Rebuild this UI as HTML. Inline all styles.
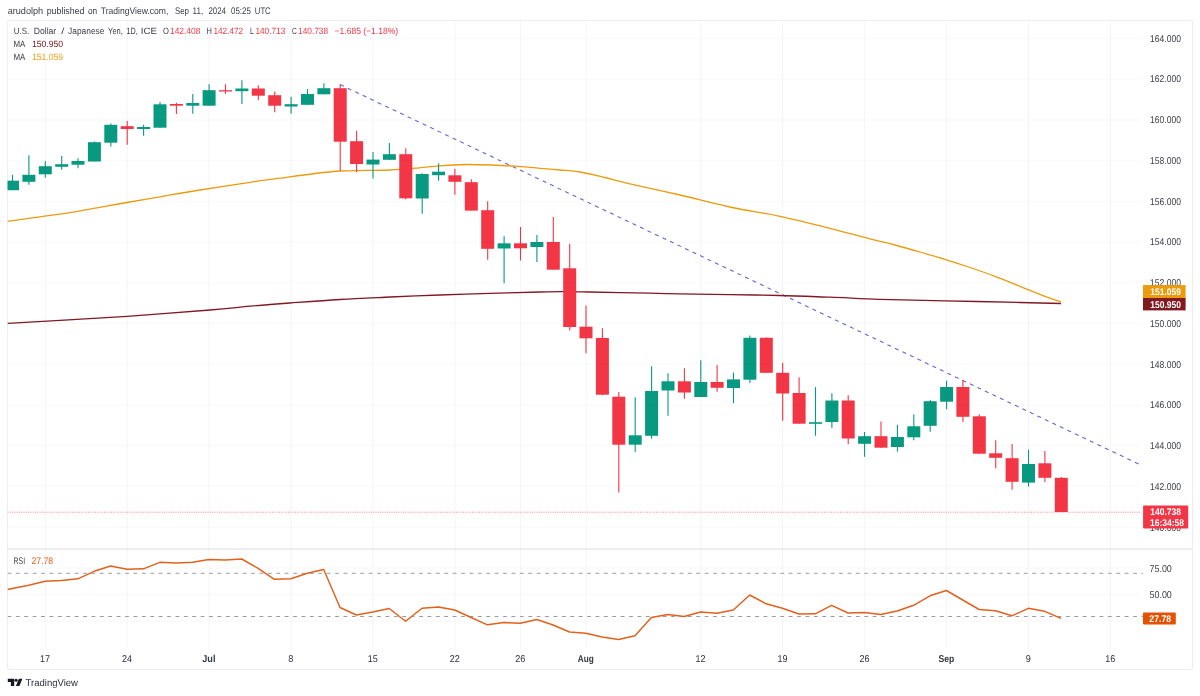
<!DOCTYPE html>
<html lang="en"><head><meta charset="utf-8"><title>USDJPY chart</title>
<style>html,body{margin:0;padding:0;background:#fff}body{width:1200px;height:696px;overflow:hidden}svg{display:block}</style></head>
<body>
<svg width="1200" height="696" viewBox="0 0 1200 696" text-rendering="geometricPrecision" font-family="'Liberation Sans', sans-serif">
<rect width="1200" height="696" fill="#ffffff"/>
<defs><clipPath id="cp"><rect x="7.5" y="20.5" width="1135.5" height="649.0"/></clipPath></defs>
<rect x="7.5" y="20.5" width="1185.1" height="649.0" rx="2" fill="#ffffff" stroke="#eeeef2" stroke-width="1.1"/>
<line x1="7.5" y1="549.1" x2="1192.6" y2="549.1" stroke="#e9e9ee" stroke-width="1.5"/>
<g clip-path="url(#cp)">
<line x1="340.2" y1="84.6" x2="1140.5" y2="464.9" stroke="#6763d0" stroke-width="1.1" stroke-dasharray="4,4.3"/>
<path d="M7.5 323.3 C16.2 322.8 40.1 321.5 60.0 320.3 C79.9 319.1 102.0 318.0 127.0 316.3 C152.0 314.6 189.5 311.7 210.0 310.0 C230.5 308.3 236.7 307.4 250.0 306.2 C263.3 305.0 275.0 304.1 290.0 303.0 C305.0 301.9 323.3 300.5 340.0 299.5 C356.7 298.5 373.3 297.8 390.0 297.0 C406.7 296.2 423.3 295.6 440.0 295.0 C456.7 294.4 473.3 293.8 490.0 293.3 C506.7 292.8 528.3 292.3 540.0 292.0 C551.7 291.7 551.7 291.6 560.0 291.6 C568.3 291.6 575.0 291.7 590.0 292.0 C605.0 292.3 635.0 292.9 650.0 293.2 C665.0 293.5 666.7 293.6 680.0 293.8 C693.3 294.0 713.3 294.3 730.0 294.6 C746.7 294.9 763.3 295.1 780.0 295.5 C796.7 295.9 813.3 296.6 830.0 297.2 C846.7 297.8 860.8 298.7 880.0 299.3 C899.2 299.9 921.7 300.3 945.0 300.8 C968.3 301.3 1000.7 302.1 1020.0 302.5 C1039.3 302.9 1054.2 303.3 1061.0 303.5" fill="none" stroke="#801922" stroke-width="1.3" stroke-linejoin="round"/>
<path d="M7.5 221.4 C12.9 220.6 28.8 218.4 40.0 216.8 C51.2 215.2 60.5 214.2 75.0 211.8 C89.5 209.4 112.8 205.0 127.0 202.5 C141.2 200.0 147.8 198.9 160.0 196.8 C172.2 194.7 185.0 192.4 200.0 190.0 C215.0 187.6 235.0 184.5 250.0 182.3 C265.0 180.1 279.2 178.3 290.0 176.8 C300.8 175.3 306.7 174.5 315.0 173.5 C323.3 172.5 331.7 171.5 340.0 171.0 C348.3 170.5 356.7 170.6 365.0 170.4 C373.3 170.2 381.7 170.4 390.0 170.0 C398.3 169.6 406.7 168.9 415.0 168.2 C423.3 167.5 431.7 166.4 440.0 165.8 C448.3 165.2 456.7 164.6 465.0 164.5 C473.3 164.4 481.7 164.7 490.0 165.0 C498.3 165.3 506.7 165.6 515.0 166.2 C523.3 166.8 532.5 167.7 540.0 168.3 C547.5 168.9 553.3 169.4 560.0 170.0 C566.7 170.6 572.5 170.8 580.0 172.0 C587.5 173.2 596.7 175.5 605.0 177.5 C613.3 179.5 617.5 180.9 630.0 183.8 C642.5 186.7 663.3 191.1 680.0 195.0 C696.7 198.9 713.3 203.4 730.0 207.0 C746.7 210.6 763.3 212.8 780.0 216.3 C796.7 219.9 815.0 224.6 830.0 228.3 C845.0 232.1 859.2 236.0 870.0 238.8 C880.8 241.6 886.7 242.8 895.0 245.0 C903.3 247.2 911.7 249.6 920.0 252.0 C928.3 254.4 936.7 256.7 945.0 259.3 C953.3 261.9 961.7 264.7 970.0 267.5 C978.3 270.3 986.7 273.2 995.0 276.3 C1003.3 279.4 1011.7 283.0 1020.0 286.3 C1028.3 289.6 1038.2 293.7 1045.0 296.3 C1051.8 298.9 1058.3 300.9 1061.0 301.8" fill="none" stroke="#ec9b0e" stroke-width="1.3" stroke-linejoin="round"/>
<line x1="12.5" y1="174.8" x2="12.5" y2="190.2" stroke="#089981" stroke-width="1.1"/>
<rect x="6.0" y="180.7" width="13.0" height="9.5" fill="#089981"/>
<line x1="28.9" y1="155.3" x2="28.9" y2="184.8" stroke="#089981" stroke-width="1.1"/>
<rect x="22.4" y="174.8" width="13.0" height="7.0" fill="#089981"/>
<line x1="45.3" y1="161.0" x2="45.3" y2="177.7" stroke="#089981" stroke-width="1.1"/>
<rect x="38.8" y="166.2" width="13.0" height="8.1" fill="#089981"/>
<line x1="61.7" y1="156.0" x2="61.7" y2="169.8" stroke="#089981" stroke-width="1.1"/>
<rect x="55.2" y="164.2" width="13.0" height="2.6" fill="#089981"/>
<line x1="78.0" y1="158.2" x2="78.0" y2="168.2" stroke="#089981" stroke-width="1.1"/>
<rect x="71.5" y="161.0" width="13.0" height="3.7" fill="#089981"/>
<line x1="94.4" y1="141.5" x2="94.4" y2="161.5" stroke="#089981" stroke-width="1.1"/>
<rect x="87.9" y="142.2" width="13.0" height="19.3" fill="#089981"/>
<line x1="110.8" y1="123.5" x2="110.8" y2="146.5" stroke="#089981" stroke-width="1.1"/>
<rect x="104.3" y="124.8" width="13.0" height="17.9" fill="#089981"/>
<line x1="127.2" y1="121.0" x2="127.2" y2="144.8" stroke="#f23645" stroke-width="1.1"/>
<rect x="120.7" y="126.2" width="13.0" height="2.8" fill="#f23645"/>
<line x1="143.6" y1="124.8" x2="143.6" y2="135.7" stroke="#089981" stroke-width="1.1"/>
<rect x="137.1" y="127.0" width="13.0" height="2.0" fill="#089981"/>
<line x1="160.0" y1="102.0" x2="160.0" y2="127.7" stroke="#089981" stroke-width="1.1"/>
<rect x="153.5" y="104.3" width="13.0" height="23.4" fill="#089981"/>
<line x1="176.4" y1="102.7" x2="176.4" y2="114.0" stroke="#f23645" stroke-width="1.1"/>
<rect x="169.9" y="104.0" width="13.0" height="1.7" fill="#f23645"/>
<line x1="192.8" y1="94.0" x2="192.8" y2="113.7" stroke="#089981" stroke-width="1.1"/>
<rect x="186.3" y="103.0" width="13.0" height="2.7" fill="#089981"/>
<line x1="209.1" y1="84.3" x2="209.1" y2="105.7" stroke="#089981" stroke-width="1.1"/>
<rect x="202.6" y="90.2" width="13.0" height="15.5" fill="#089981"/>
<line x1="225.5" y1="84.3" x2="225.5" y2="93.7" stroke="#f23645" stroke-width="1.1"/>
<rect x="219.0" y="90.2" width="13.0" height="1.3" fill="#f23645"/>
<line x1="241.9" y1="80.2" x2="241.9" y2="104.0" stroke="#089981" stroke-width="1.1"/>
<rect x="235.4" y="88.5" width="13.0" height="2.7" fill="#089981"/>
<line x1="258.3" y1="85.3" x2="258.3" y2="100.3" stroke="#f23645" stroke-width="1.1"/>
<rect x="251.8" y="88.5" width="13.0" height="7.2" fill="#f23645"/>
<line x1="274.7" y1="91.5" x2="274.7" y2="112.3" stroke="#f23645" stroke-width="1.1"/>
<rect x="268.2" y="95.2" width="13.0" height="10.5" fill="#f23645"/>
<line x1="291.1" y1="96.8" x2="291.1" y2="113.7" stroke="#089981" stroke-width="1.1"/>
<rect x="284.6" y="104.2" width="13.0" height="2.3" fill="#089981"/>
<line x1="307.5" y1="89.0" x2="307.5" y2="104.8" stroke="#089981" stroke-width="1.1"/>
<rect x="301.0" y="94.0" width="13.0" height="10.8" fill="#089981"/>
<line x1="323.9" y1="83.2" x2="323.9" y2="94.3" stroke="#089981" stroke-width="1.1"/>
<rect x="317.4" y="88.2" width="13.0" height="6.1" fill="#089981"/>
<line x1="340.2" y1="84.3" x2="340.2" y2="170.7" stroke="#f23645" stroke-width="1.1"/>
<rect x="333.7" y="88.2" width="13.0" height="53.5" fill="#f23645"/>
<line x1="356.6" y1="130.7" x2="356.6" y2="172.3" stroke="#f23645" stroke-width="1.1"/>
<rect x="350.1" y="141.2" width="13.0" height="22.8" fill="#f23645"/>
<line x1="373.0" y1="152.1" x2="373.0" y2="178.5" stroke="#089981" stroke-width="1.1"/>
<rect x="366.5" y="159.6" width="13.0" height="4.9" fill="#089981"/>
<line x1="389.4" y1="143.0" x2="389.4" y2="159.8" stroke="#089981" stroke-width="1.1"/>
<rect x="382.9" y="154.2" width="13.0" height="5.6" fill="#089981"/>
<line x1="405.8" y1="148.3" x2="405.8" y2="199.5" stroke="#f23645" stroke-width="1.1"/>
<rect x="399.3" y="154.2" width="13.0" height="44.1" fill="#f23645"/>
<line x1="422.2" y1="173.3" x2="422.2" y2="213.7" stroke="#089981" stroke-width="1.1"/>
<rect x="415.7" y="174.0" width="13.0" height="24.5" fill="#089981"/>
<line x1="438.6" y1="163.3" x2="438.6" y2="180.8" stroke="#089981" stroke-width="1.1"/>
<rect x="432.1" y="171.7" width="13.0" height="3.5" fill="#089981"/>
<line x1="454.9" y1="168.7" x2="454.9" y2="194.7" stroke="#f23645" stroke-width="1.1"/>
<rect x="448.4" y="175.3" width="13.0" height="6.5" fill="#f23645"/>
<line x1="471.3" y1="179.2" x2="471.3" y2="210.6" stroke="#f23645" stroke-width="1.1"/>
<rect x="464.8" y="182.2" width="13.0" height="28.4" fill="#f23645"/>
<line x1="487.7" y1="201.2" x2="487.7" y2="259.7" stroke="#f23645" stroke-width="1.1"/>
<rect x="481.2" y="210.2" width="13.0" height="38.6" fill="#f23645"/>
<line x1="504.1" y1="236.2" x2="504.1" y2="283.3" stroke="#089981" stroke-width="1.1"/>
<rect x="497.6" y="243.3" width="13.0" height="5.2" fill="#089981"/>
<line x1="520.5" y1="227.0" x2="520.5" y2="260.5" stroke="#f23645" stroke-width="1.1"/>
<rect x="514.0" y="243.3" width="13.0" height="5.0" fill="#f23645"/>
<line x1="536.9" y1="235.0" x2="536.9" y2="262.0" stroke="#089981" stroke-width="1.1"/>
<rect x="530.4" y="242.0" width="13.0" height="5.0" fill="#089981"/>
<line x1="553.3" y1="217.0" x2="553.3" y2="269.7" stroke="#f23645" stroke-width="1.1"/>
<rect x="546.8" y="242.0" width="13.0" height="27.7" fill="#f23645"/>
<line x1="569.7" y1="243.8" x2="569.7" y2="330.5" stroke="#f23645" stroke-width="1.1"/>
<rect x="563.2" y="268.3" width="13.0" height="58.7" fill="#f23645"/>
<line x1="586.0" y1="305.5" x2="586.0" y2="353.3" stroke="#f23645" stroke-width="1.1"/>
<rect x="579.5" y="326.7" width="13.0" height="11.6" fill="#f23645"/>
<line x1="602.4" y1="328.3" x2="602.4" y2="395.3" stroke="#f23645" stroke-width="1.1"/>
<rect x="595.9" y="338.0" width="13.0" height="56.7" fill="#f23645"/>
<line x1="618.8" y1="392.0" x2="618.8" y2="492.5" stroke="#f23645" stroke-width="1.1"/>
<rect x="612.3" y="396.7" width="13.0" height="48.0" fill="#f23645"/>
<line x1="635.2" y1="397.2" x2="635.2" y2="452.0" stroke="#089981" stroke-width="1.1"/>
<rect x="628.7" y="435.3" width="13.0" height="9.4" fill="#089981"/>
<line x1="651.6" y1="366.2" x2="651.6" y2="438.7" stroke="#089981" stroke-width="1.1"/>
<rect x="645.1" y="391.0" width="13.0" height="44.8" fill="#089981"/>
<line x1="668.0" y1="373.3" x2="668.0" y2="415.8" stroke="#089981" stroke-width="1.1"/>
<rect x="661.5" y="381.3" width="13.0" height="9.2" fill="#089981"/>
<line x1="684.4" y1="368.3" x2="684.4" y2="398.7" stroke="#f23645" stroke-width="1.1"/>
<rect x="677.9" y="381.3" width="13.0" height="11.2" fill="#f23645"/>
<line x1="700.8" y1="360.3" x2="700.8" y2="397.0" stroke="#089981" stroke-width="1.1"/>
<rect x="694.3" y="382.0" width="13.0" height="15.0" fill="#089981"/>
<line x1="717.1" y1="365.0" x2="717.1" y2="391.7" stroke="#f23645" stroke-width="1.1"/>
<rect x="710.6" y="382.0" width="13.0" height="5.8" fill="#f23645"/>
<line x1="733.5" y1="372.5" x2="733.5" y2="403.3" stroke="#089981" stroke-width="1.1"/>
<rect x="727.0" y="379.4" width="13.0" height="8.6" fill="#089981"/>
<line x1="749.9" y1="335.5" x2="749.9" y2="383.0" stroke="#089981" stroke-width="1.1"/>
<rect x="743.4" y="337.8" width="13.0" height="41.9" fill="#089981"/>
<line x1="766.3" y1="337.3" x2="766.3" y2="372.8" stroke="#f23645" stroke-width="1.1"/>
<rect x="759.8" y="337.8" width="13.0" height="35.0" fill="#f23645"/>
<line x1="782.7" y1="362.8" x2="782.7" y2="420.8" stroke="#f23645" stroke-width="1.1"/>
<rect x="776.2" y="372.8" width="13.0" height="20.7" fill="#f23645"/>
<line x1="799.1" y1="377.2" x2="799.1" y2="423.7" stroke="#f23645" stroke-width="1.1"/>
<rect x="792.6" y="393.0" width="13.0" height="30.7" fill="#f23645"/>
<line x1="815.5" y1="387.2" x2="815.5" y2="435.8" stroke="#089981" stroke-width="1.1"/>
<rect x="809.0" y="422.2" width="13.0" height="1.6" fill="#089981"/>
<line x1="831.9" y1="393.3" x2="831.9" y2="428.0" stroke="#089981" stroke-width="1.1"/>
<rect x="825.4" y="400.5" width="13.0" height="21.5" fill="#089981"/>
<line x1="848.2" y1="395.3" x2="848.2" y2="444.2" stroke="#f23645" stroke-width="1.1"/>
<rect x="841.7" y="400.5" width="13.0" height="38.0" fill="#f23645"/>
<line x1="864.6" y1="432.0" x2="864.6" y2="456.7" stroke="#089981" stroke-width="1.1"/>
<rect x="858.1" y="436.2" width="13.0" height="7.6" fill="#089981"/>
<line x1="881.0" y1="421.5" x2="881.0" y2="447.7" stroke="#f23645" stroke-width="1.1"/>
<rect x="874.5" y="436.2" width="13.0" height="11.5" fill="#f23645"/>
<line x1="897.4" y1="424.7" x2="897.4" y2="451.7" stroke="#089981" stroke-width="1.1"/>
<rect x="890.9" y="437.0" width="13.0" height="10.0" fill="#089981"/>
<line x1="913.8" y1="414.2" x2="913.8" y2="440.3" stroke="#089981" stroke-width="1.1"/>
<rect x="907.3" y="426.3" width="13.0" height="11.0" fill="#089981"/>
<line x1="930.2" y1="400.0" x2="930.2" y2="431.7" stroke="#089981" stroke-width="1.1"/>
<rect x="923.7" y="401.2" width="13.0" height="24.6" fill="#089981"/>
<line x1="946.6" y1="380.8" x2="946.6" y2="409.2" stroke="#089981" stroke-width="1.1"/>
<rect x="940.1" y="387.0" width="13.0" height="14.7" fill="#089981"/>
<line x1="962.9" y1="380.0" x2="962.9" y2="422.0" stroke="#f23645" stroke-width="1.1"/>
<rect x="956.4" y="387.0" width="13.0" height="29.8" fill="#f23645"/>
<line x1="979.3" y1="414.2" x2="979.3" y2="453.7" stroke="#f23645" stroke-width="1.1"/>
<rect x="972.8" y="416.3" width="13.0" height="37.4" fill="#f23645"/>
<line x1="995.7" y1="440.3" x2="995.7" y2="468.2" stroke="#f23645" stroke-width="1.1"/>
<rect x="989.2" y="453.3" width="13.0" height="4.5" fill="#f23645"/>
<line x1="1012.1" y1="444.0" x2="1012.1" y2="489.8" stroke="#f23645" stroke-width="1.1"/>
<rect x="1005.6" y="458.2" width="13.0" height="23.6" fill="#f23645"/>
<line x1="1028.5" y1="449.6" x2="1028.5" y2="486.5" stroke="#089981" stroke-width="1.1"/>
<rect x="1022.0" y="464.0" width="13.0" height="18.6" fill="#089981"/>
<line x1="1044.9" y1="451.0" x2="1044.9" y2="482.0" stroke="#f23645" stroke-width="1.1"/>
<rect x="1038.4" y="463.3" width="13.0" height="14.5" fill="#f23645"/>
<line x1="1061.3" y1="477.0" x2="1061.3" y2="512.0" stroke="#f23645" stroke-width="1.1"/>
<rect x="1054.8" y="477.8" width="13.0" height="34.2" fill="#f23645"/>
<line x1="45.3" y1="20.5" x2="45.3" y2="649" stroke="rgba(50,40,80,0.05)" stroke-width="1"/>
<line x1="127.2" y1="20.5" x2="127.2" y2="649" stroke="rgba(50,40,80,0.05)" stroke-width="1"/>
<line x1="209.1" y1="20.5" x2="209.1" y2="649" stroke="rgba(50,40,80,0.05)" stroke-width="1"/>
<line x1="291.1" y1="20.5" x2="291.1" y2="649" stroke="rgba(50,40,80,0.05)" stroke-width="1"/>
<line x1="373.0" y1="20.5" x2="373.0" y2="649" stroke="rgba(50,40,80,0.05)" stroke-width="1"/>
<line x1="454.9" y1="20.5" x2="454.9" y2="649" stroke="rgba(50,40,80,0.05)" stroke-width="1"/>
<line x1="520.5" y1="20.5" x2="520.5" y2="649" stroke="rgba(50,40,80,0.05)" stroke-width="1"/>
<line x1="586.0" y1="20.5" x2="586.0" y2="649" stroke="rgba(50,40,80,0.05)" stroke-width="1"/>
<line x1="700.8" y1="20.5" x2="700.8" y2="649" stroke="rgba(50,40,80,0.05)" stroke-width="1"/>
<line x1="782.7" y1="20.5" x2="782.7" y2="649" stroke="rgba(50,40,80,0.05)" stroke-width="1"/>
<line x1="864.6" y1="20.5" x2="864.6" y2="649" stroke="rgba(50,40,80,0.05)" stroke-width="1"/>
<line x1="946.6" y1="20.5" x2="946.6" y2="649" stroke="rgba(50,40,80,0.05)" stroke-width="1"/>
<line x1="1028.5" y1="20.5" x2="1028.5" y2="649" stroke="rgba(50,40,80,0.05)" stroke-width="1"/>
<line x1="1110.4" y1="20.5" x2="1110.4" y2="649" stroke="rgba(50,40,80,0.05)" stroke-width="1"/>
<line x1="7.5" y1="38.6" x2="1140" y2="38.6" stroke="rgba(50,40,80,0.032)" stroke-width="1"/>
<line x1="7.5" y1="79.3" x2="1140" y2="79.3" stroke="rgba(50,40,80,0.032)" stroke-width="1"/>
<line x1="7.5" y1="120.0" x2="1140" y2="120.0" stroke="rgba(50,40,80,0.032)" stroke-width="1"/>
<line x1="7.5" y1="160.7" x2="1140" y2="160.7" stroke="rgba(50,40,80,0.032)" stroke-width="1"/>
<line x1="7.5" y1="201.4" x2="1140" y2="201.4" stroke="rgba(50,40,80,0.032)" stroke-width="1"/>
<line x1="7.5" y1="242.1" x2="1140" y2="242.1" stroke="rgba(50,40,80,0.032)" stroke-width="1"/>
<line x1="7.5" y1="282.8" x2="1140" y2="282.8" stroke="rgba(50,40,80,0.032)" stroke-width="1"/>
<line x1="7.5" y1="323.5" x2="1140" y2="323.5" stroke="rgba(50,40,80,0.032)" stroke-width="1"/>
<line x1="7.5" y1="364.2" x2="1140" y2="364.2" stroke="rgba(50,40,80,0.032)" stroke-width="1"/>
<line x1="7.5" y1="404.9" x2="1140" y2="404.9" stroke="rgba(50,40,80,0.032)" stroke-width="1"/>
<line x1="7.5" y1="445.6" x2="1140" y2="445.6" stroke="rgba(50,40,80,0.032)" stroke-width="1"/>
<line x1="7.5" y1="486.3" x2="1140" y2="486.3" stroke="rgba(50,40,80,0.032)" stroke-width="1"/>
<line x1="7.5" y1="527.0" x2="1140" y2="527.0" stroke="rgba(50,40,80,0.032)" stroke-width="1"/>
<line x1="7.5" y1="568.0" x2="1140" y2="568.0" stroke="rgba(50,40,80,0.032)" stroke-width="1"/>
<line x1="7.5" y1="594.5" x2="1140" y2="594.5" stroke="rgba(50,40,80,0.032)" stroke-width="1"/>
<line x1="7.5" y1="621.0" x2="1140" y2="621.0" stroke="rgba(50,40,80,0.032)" stroke-width="1"/>
<line x1="7.5" y1="512.2" x2="1140" y2="512.2" stroke="#f23645" stroke-opacity="0.6" stroke-width="1" stroke-dasharray="1,1.3"/>
<line x1="7.5" y1="573.3" x2="1143" y2="573.3" stroke="#9a9ca5" stroke-width="1" stroke-dasharray="3.8,4.6"/>
<line x1="7.5" y1="616.5" x2="1143" y2="616.5" stroke="#9a9ca5" stroke-width="1" stroke-dasharray="3.8,4.6"/>
<path d="M7.5 589.5 L12.3 588.5 L28.7 585.3 L45.1 581.3 L61.5 580.5 L77.8 578.8 L94.2 571.3 L110.6 566.0 L127.0 569.3 L143.4 568.8 L159.8 562.3 L176.2 563.0 L192.6 562.3 L208.9 559.5 L225.3 560.0 L241.7 559.0 L258.1 568.3 L274.5 579.3 L290.9 578.7 L307.3 573.3 L323.7 569.5 L340.0 607.5 L356.4 615.0 L372.8 612.0 L389.2 608.5 L405.6 621.3 L422.0 608.3 L438.4 607.0 L454.7 610.0 L471.1 617.5 L487.5 624.8 L503.9 622.5 L520.3 623.3 L536.7 619.5 L553.1 625.0 L569.5 632.0 L585.8 633.3 L602.2 637.0 L618.6 639.5 L635.0 635.8 L651.4 617.5 L667.8 614.5 L684.2 616.5 L700.6 612.0 L716.9 613.3 L733.3 610.0 L749.7 595.0 L766.1 603.8 L782.5 608.3 L798.9 614.0 L815.3 613.8 L831.6 605.3 L848.0 613.0 L864.4 612.5 L880.8 614.5 L897.2 611.0 L913.6 605.3 L930.0 595.8 L946.4 590.5 L962.7 600.0 L979.1 609.5 L995.5 610.8 L1011.9 615.8 L1028.3 608.3 L1044.7 611.3 L1061.1 618.3" fill="none" stroke="#e2611d" stroke-width="1.45" stroke-linejoin="round"/>
</g>
<text y="14.3" font-size="9.5" fill="#3a3d48"><tspan x="7.7" textLength="35.5" lengthAdjust="spacingAndGlyphs">arudolph</tspan> <tspan x="46.7" textLength="37.8" lengthAdjust="spacingAndGlyphs">published</tspan> <tspan x="87.9" textLength="9.2" lengthAdjust="spacingAndGlyphs">on</tspan> <tspan x="100.8" textLength="67.5" lengthAdjust="spacingAndGlyphs">TradingView.com,</tspan> <tspan x="175" textLength="14.0" lengthAdjust="spacingAndGlyphs">Sep</tspan> <tspan x="192.6" textLength="10.6" lengthAdjust="spacingAndGlyphs">11,</tspan> <tspan x="208.4" textLength="17.5" lengthAdjust="spacingAndGlyphs">2024</tspan> <tspan x="231" textLength="19.8" lengthAdjust="spacingAndGlyphs">05:25</tspan> <tspan x="254.8" textLength="15.9" lengthAdjust="spacingAndGlyphs">UTC</tspan></text>
<text y="34.4" font-size="9.1" fill="#3b3e46"><tspan x="13.75" textLength="15.4" lengthAdjust="spacingAndGlyphs">U.S.</tspan> <tspan x="33.75" textLength="22.5" lengthAdjust="spacingAndGlyphs">Dollar</tspan> <tspan x="61.3" textLength="3.1" lengthAdjust="spacingAndGlyphs">/</tspan> <tspan x="68.1" textLength="36.3" lengthAdjust="spacingAndGlyphs">Japanese</tspan> <tspan x="108.1" textLength="14.8" lengthAdjust="spacingAndGlyphs">Yen,</tspan> <tspan x="126.5" textLength="11.3" lengthAdjust="spacingAndGlyphs">1D,</tspan> <tspan x="140.8" textLength="16.2" lengthAdjust="spacingAndGlyphs">ICE</tspan></text>
<text x="162.9" y="34.4" font-size="9.1" fill="#3b3e46" textLength="5.9" lengthAdjust="spacingAndGlyphs">O</text>
<text x="170" y="34.4" font-size="9.1" fill="#f23645" textLength="30.4" lengthAdjust="spacingAndGlyphs">142.408</text>
<text x="206.5" y="34.4" font-size="9.1" fill="#3b3e46" textLength="5.4" lengthAdjust="spacingAndGlyphs">H</text>
<text x="213.4" y="34.4" font-size="9.1" fill="#f23645" textLength="29.8" lengthAdjust="spacingAndGlyphs">142.472</text>
<text x="250" y="34.4" font-size="9.1" fill="#3b3e46" textLength="3.9" lengthAdjust="spacingAndGlyphs">L</text>
<text x="255.4" y="34.4" font-size="9.1" fill="#f23645" textLength="29.9" lengthAdjust="spacingAndGlyphs">140.713</text>
<text x="291.9" y="34.4" font-size="9.1" fill="#3b3e46" textLength="4.8" lengthAdjust="spacingAndGlyphs">C</text>
<text x="298.1" y="34.4" font-size="9.1" fill="#f23645" textLength="30" lengthAdjust="spacingAndGlyphs">140.738</text>
<text x="334.6" y="34.4" font-size="9.1" fill="#f23645" textLength="63.5" lengthAdjust="spacingAndGlyphs">−1.685 (−1.18%)</text>
<text x="13.4" y="47.4" font-size="9.1" fill="#3b3e46" textLength="11.9" lengthAdjust="spacingAndGlyphs">MA</text>
<text x="31.9" y="47.4" font-size="9.1" fill="#801922" textLength="31.2" lengthAdjust="spacingAndGlyphs">150.950</text>
<text x="13.4" y="60.4" font-size="9.1" fill="#3b3e46" textLength="11.9" lengthAdjust="spacingAndGlyphs">MA</text>
<text x="31.9" y="60.4" font-size="9.1" fill="#eda41f" textLength="31.2" lengthAdjust="spacingAndGlyphs">151.059</text>
<text x="13.6" y="564.3" font-size="9.5" fill="#3b3e46" textLength="11.6" lengthAdjust="spacingAndGlyphs">RSI</text>
<text x="31.5" y="564.3" font-size="9.5" fill="#e2611d" textLength="21.7" lengthAdjust="spacingAndGlyphs">27.78</text>
<text x="1150" y="41.599999999999994" font-size="9.9" fill="#3b3e46" textLength="30.9" lengthAdjust="spacingAndGlyphs">164.000</text>
<text x="1150" y="82.35" font-size="9.9" fill="#3b3e46" textLength="30.9" lengthAdjust="spacingAndGlyphs">162.000</text>
<text x="1150" y="123.1" font-size="9.9" fill="#3b3e46" textLength="30.9" lengthAdjust="spacingAndGlyphs">160.000</text>
<text x="1150" y="163.85000000000002" font-size="9.9" fill="#3b3e46" textLength="30.9" lengthAdjust="spacingAndGlyphs">158.000</text>
<text x="1150" y="204.60000000000002" font-size="9.9" fill="#3b3e46" textLength="30.9" lengthAdjust="spacingAndGlyphs">156.000</text>
<text x="1150" y="245.35000000000002" font-size="9.9" fill="#3b3e46" textLength="30.9" lengthAdjust="spacingAndGlyphs">154.000</text>
<text x="1150" y="286.1" font-size="9.9" fill="#3b3e46" textLength="30.9" lengthAdjust="spacingAndGlyphs">152.000</text>
<text x="1150" y="326.85" font-size="9.9" fill="#3b3e46" textLength="30.9" lengthAdjust="spacingAndGlyphs">150.000</text>
<text x="1150" y="367.6" font-size="9.9" fill="#3b3e46" textLength="30.9" lengthAdjust="spacingAndGlyphs">148.000</text>
<text x="1150" y="408.35" font-size="9.9" fill="#3b3e46" textLength="30.9" lengthAdjust="spacingAndGlyphs">146.000</text>
<text x="1150" y="449.1" font-size="9.9" fill="#3b3e46" textLength="30.9" lengthAdjust="spacingAndGlyphs">144.000</text>
<text x="1150" y="489.85" font-size="9.9" fill="#3b3e46" textLength="30.9" lengthAdjust="spacingAndGlyphs">142.000</text>
<text x="1150" y="530.5999999999999" font-size="9.9" fill="#3b3e46" textLength="30.9" lengthAdjust="spacingAndGlyphs">140.000</text>
<text x="1149.5" y="571.5" font-size="9.9" fill="#3b3e46" textLength="22.3" lengthAdjust="spacingAndGlyphs">75.00</text>
<text x="1149.5" y="598.0" font-size="9.9" fill="#3b3e46" textLength="22.3" lengthAdjust="spacingAndGlyphs">50.00</text>
<rect x="1143" y="285.1" width="42.6" height="13" fill="#ec9b0e"/>
<text x="1150.3" y="294.8" font-size="9.6" fill="#ffffff" font-weight="bold" textLength="30.7" lengthAdjust="spacingAndGlyphs">151.059</text>
<rect x="1143" y="298" width="42.6" height="12.4" fill="#801922"/>
<text x="1150.3" y="307.8" font-size="9.8" fill="#ffffff" font-weight="bold" textLength="30.7" lengthAdjust="spacingAndGlyphs">150.950</text>
<rect x="1143.1" y="505.4" width="45.1" height="23.2" rx="1" fill="#f23645"/>
<text x="1150.3" y="515.4" font-size="9.7" fill="#ffffff" font-weight="bold" textLength="30.7" lengthAdjust="spacingAndGlyphs">140.738</text>
<text x="1150" y="525.9" font-size="9.8" fill="#ffffff" font-weight="bold" textLength="34" lengthAdjust="spacingAndGlyphs">16:34:58</text>
<rect x="1143" y="612.5" width="32.8" height="12" rx="1" fill="#e65100"/>
<text x="1149.3" y="621.9" font-size="9.7" fill="#ffffff" font-weight="bold" textLength="21.8" lengthAdjust="spacingAndGlyphs">27.78</text>
<text x="40.1" y="662.3" font-size="9.9" fill="#30323a" textLength="10.0" lengthAdjust="spacingAndGlyphs">17</text>
<text x="122.0" y="662.3" font-size="9.9" fill="#30323a" textLength="10.0" lengthAdjust="spacingAndGlyphs">24</text>
<text x="202.3" y="662.3" font-size="9.9" fill="#34363e" font-weight="bold" textLength="13.2" lengthAdjust="spacingAndGlyphs">Jul</text>
<text x="288.3" y="662.3" font-size="9.9" fill="#30323a" textLength="5.1" lengthAdjust="spacingAndGlyphs">8</text>
<text x="367.8" y="662.3" font-size="9.9" fill="#30323a" textLength="10.0" lengthAdjust="spacingAndGlyphs">15</text>
<text x="449.7" y="662.3" font-size="9.9" fill="#30323a" textLength="10.0" lengthAdjust="spacingAndGlyphs">22</text>
<text x="515.3" y="662.3" font-size="9.9" fill="#30323a" textLength="10.0" lengthAdjust="spacingAndGlyphs">26</text>
<text x="577.8" y="662.3" font-size="9.9" fill="#34363e" font-weight="bold" textLength="16.0" lengthAdjust="spacingAndGlyphs">Aug</text>
<text x="695.6" y="662.3" font-size="9.9" fill="#30323a" textLength="10.0" lengthAdjust="spacingAndGlyphs">12</text>
<text x="777.5" y="662.3" font-size="9.9" fill="#30323a" textLength="10.0" lengthAdjust="spacingAndGlyphs">19</text>
<text x="859.4" y="662.3" font-size="9.9" fill="#30323a" textLength="10.0" lengthAdjust="spacingAndGlyphs">26</text>
<text x="938.5" y="662.3" font-size="9.9" fill="#34363e" font-weight="bold" textLength="15.8" lengthAdjust="spacingAndGlyphs">Sep</text>
<text x="1025.7" y="662.3" font-size="9.9" fill="#30323a" textLength="5.1" lengthAdjust="spacingAndGlyphs">9</text>
<text x="1105.2" y="662.3" font-size="9.9" fill="#30323a" textLength="10.0" lengthAdjust="spacingAndGlyphs">16</text>
<g fill="#16181f"><path d="M7.8 678.8h6.4v7.1h-3.3v-4h-3.1z"/><circle cx="16.1" cy="680.3" r="1.55"/><path d="M18.9 678.8h3.5l-3 7.1h-3.5z"/></g>
<text x="25.6" y="685.9" font-size="9.8" fill="#2b2e38" textLength="52.3" lengthAdjust="spacingAndGlyphs">TradingView</text>
</svg>
</body></html>
